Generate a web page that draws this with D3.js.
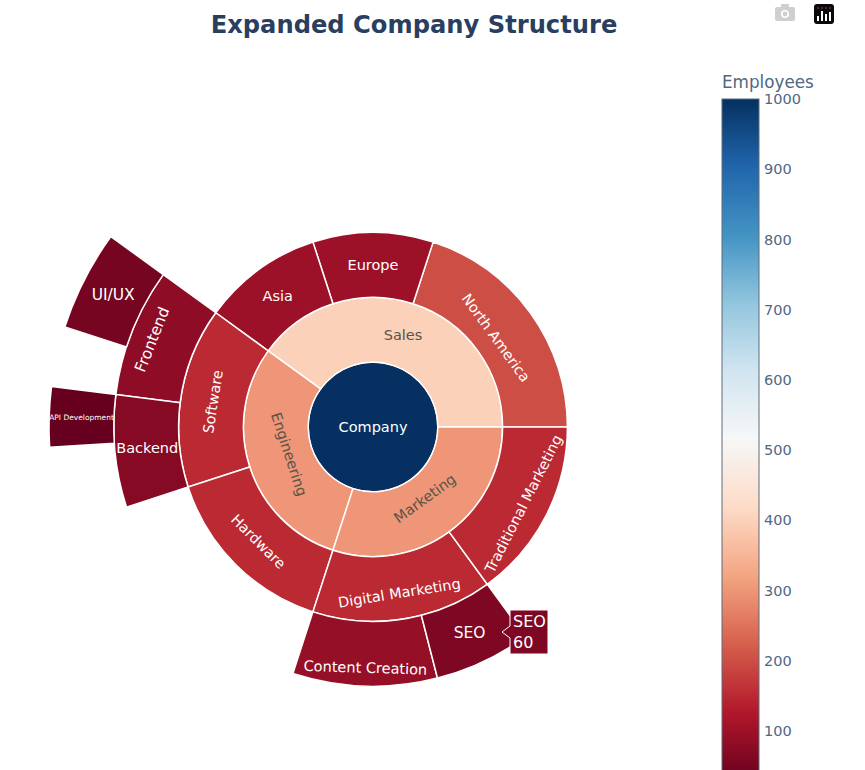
<!DOCTYPE html>
<html>
<head>
<meta charset="utf-8">
<script src="https://cdn.jsdelivr.net/npm/d3@7"></script>
<style>
    html, body { margin: 0; padding: 0; background: #fff; overflow: hidden; }
    svg { display: block; font-family: "DejaVu Sans", sans-serif; }
</style>
</head>
<body>
<div id="chart"></div>
<script>
// Company structure
const labels = ['Company', 'Sales', 'Engineering', 'Marketing', 'North America', 'Europe', 'Asia',
    'Software', 'Hardware', 'Digital Marketing', 'Traditional Marketing',
    'Frontend', 'Backend', 'Content Creation', 'SEO', 'UI/UX', 'API Development'];
const parents = ['', 'Company', 'Company', 'Company', 'Sales', 'Sales', 'Sales',
    'Engineering', 'Engineering', 'Marketing', 'Marketing',
    'Software', 'Software', 'Digital Marketing', 'Digital Marketing', 'Frontend', 'Backend'];
const values = [1000, 400, 300, 300, 200, 100, 100, 150, 150, 150, 150, 80, 70, 90, 60, 50, 30];

// Colorbar
const colorTicks = [100, 200, 300, 400, 500, 600, 700, 800, 900, 1000];
const rdBu = ['#67001f', '#b2182b', '#d6604d', '#f4a582', '#fddbc7', '#f7f7f7',
    '#d1e5f0', '#92c5de', '#4393c3', '#2166ac', '#053061'];

const width = 865, height = 770;
const cx = 373, cy = 427, ringWidth = 64.8;

const svg = d3.select('#chart').append('svg')
    .attr('width', width)
    .attr('height', height);

// Title
svg.append('text')
    .attr('x', 414)
    .attr('y', 33)
    .attr('text-anchor', 'middle')
    .style('font-size', '24.2px')
    .style('font-weight', 'bold')
    .style('fill', '#2a3f5f')
    .text('Expanded Company Structure');

const vMin = d3.min(values), vMax = d3.max(values);
const color = d3.scaleLinear()
    .domain(rdBu.map((c, i) => vMin + (vMax - vMin) * i / (rdBu.length - 1)))
    .range(rdBu);

// Values are totals, so the children may not fill their parent
const root = d3.stratify()
    .id((d, i) => labels[i])
    .parentId((d, i) => parents[i] || null)(labels);
root.each(d => { d.value = values[labels.indexOf(d.id)]; });
d3.partition().size([1, root.height + 1])(root);

// Runs counterclockwise, starting from 3 o'clock
const angle = d3.scaleLinear().domain([0, 1]).range([Math.PI / 2, Math.PI / 2 - 2 * Math.PI]);
const radius = d3.scaleLinear().domain([0, root.height + 1]).range([0, ringWidth * (root.height + 1)]);

const arc = d3.arc()
    .startAngle(d => angle(d.x0))
    .endAngle(d => angle(d.x1))
    .innerRadius(d => radius(d.y0))
    .outerRadius(d => radius(d.y1));

const g = svg.append('g').attr('transform', `translate(${cx},${cy})`);

g.selectAll('path')
    .data(root.descendants())
    .enter().append('path')
    .attr('d', arc)
    .attr('fill', d => color(d.value))
    .attr('stroke', '#fff')
    .attr('stroke-width', 1.5);

// Labels that stay level, the rest follow the ring
const flatLabels = ['Company', 'Sales', 'Europe', 'Asia', 'Backend', 'SEO', 'UI/UX', 'API Development'];
const bigLabels = ['Frontend', 'UI/UX', 'SEO'];
const labelShift = {
    'Engineering': -9, 'Marketing': -9, 'North America': -10, 'Traditional Marketing': 7,
    'Digital Marketing': 6, 'Frontend': 11, 'Content Creation': 14
};

g.selectAll('text.label')
    .data(root.descendants())
    .enter().append('text')
    .attr('class', 'label')
    .attr('text-anchor', 'middle')
    .attr('dy', '0.35em')
    .attr('transform', d => {
        if (d.depth === 0) return 'translate(0,0)';
        const a = (angle(d.x0) + angle(d.x1)) / 2;
        const r = (radius(d.y0) + radius(d.y1)) / 2 + (labelShift[d.id] || 0);
        const deg = ((a * 180 / Math.PI) % 360 + 360) % 360;
        const rot = flatLabels.includes(d.id) ? 0 : deg < 90 ? deg : deg < 270 ? deg - 180 : deg - 360;
        return `translate(${r * Math.sin(a)},${-r * Math.cos(a)}) rotate(${rot})`;
    })
    .style('font-size', d => d.id === 'API Development' ? '7.5px' : bigLabels.includes(d.id) ? '15.5px' : '14.5px')
    .style('fill', d => d.value >= 300 && d.value < 1000 ? '#5a5348' : '#fff')
    .text(d => d.id);

// Hover box on SEO
const hover = svg.append('g').attr('transform', 'translate(502,632)');
hover.append('path')
    .attr('d', 'M0,0 L8,-6 L8,-22 L46,-22 L46,22 L8,22 L8,6 Z')
    .attr('fill', color(values[labels.indexOf('SEO')]))
    .attr('stroke', '#fff');
['SEO', values[labels.indexOf('SEO')]].forEach((t, i) => {
    hover.append('text')
        .attr('x', 11)
        .attr('y', i === 0 ? -5 : 16)
        .style('font-size', '16px')
        .style('fill', '#fff')
        .text(t);
});

// Colorbar, the low end runs off the bottom of the page
const barX = 722, barWidth = 37, barTop = 99;
const barY = d3.scaleLinear().domain([vMin, vMax]).range([780, barTop]);

const grad = svg.append('defs').append('linearGradient')
    .attr('id', 'bar-grad')
    .attr('x1', 0).attr('x2', 0).attr('y1', 1).attr('y2', 0);
grad.selectAll('stop')
    .data(rdBu)
    .enter().append('stop')
    .attr('offset', (d, i) => i / (rdBu.length - 1))
    .attr('stop-color', d => d);

svg.append('rect')
    .attr('x', barX)
    .attr('y', barTop)
    .attr('width', barWidth)
    .attr('height', barY(vMin) - barTop)
    .attr('fill', 'url(#bar-grad)')
    .attr('stroke', '#5f6b7a')
    .attr('stroke-width', 1);

const barAxis = svg.append('g')
    .attr('transform', `translate(${barX + barWidth},0)`)
    .call(d3.axisRight(barY).tickValues(colorTicks).tickSize(0).tickPadding(5).tickFormat(d3.format('d')));
barAxis.select('.domain').remove();
barAxis.selectAll('text')
    .style('font-family', '"DejaVu Sans", sans-serif')
    .style('font-size', '14.5px')
    .style('fill', '#506784');

svg.append('text')
    .attr('x', barX)
    .attr('y', 88)
    .style('font-size', '16.8px')
    .style('fill', '#506784')
    .text('Employees');

// Toolbar icons top right
const camera = svg.append('g').attr('transform', 'translate(785,14)');
camera.append('rect').attr('x', -10).attr('y', -7).attr('width', 20).attr('height', 14).attr('rx', 2).attr('fill', '#cfcfcf');
camera.append('rect').attr('x', -4).attr('y', -10).attr('width', 8).attr('height', 4).attr('fill', '#cfcfcf');
camera.append('circle').attr('r', 4).attr('fill', '#fff');
camera.append('circle').attr('r', 2.4).attr('fill', '#cfcfcf');

const logo = svg.append('g').attr('transform', 'translate(824,14)');
logo.append('rect').attr('x', -10).attr('y', -10).attr('width', 20).attr('height', 20).attr('rx', 3).attr('fill', '#0a0a0a');
[-6, -2, 2, 6].forEach((x, i) => {
    const h = [5, 10, 7, 9][i];
    logo.append('rect').attr('x', x - 1).attr('y', 7 - h).attr('width', 2).attr('height', h).attr('fill', '#fff');
    logo.append('circle').attr('cx', x).attr('cy', -6).attr('r', 0.8).attr('fill', '#c0436a');
});
</script>
</body>
</html>
